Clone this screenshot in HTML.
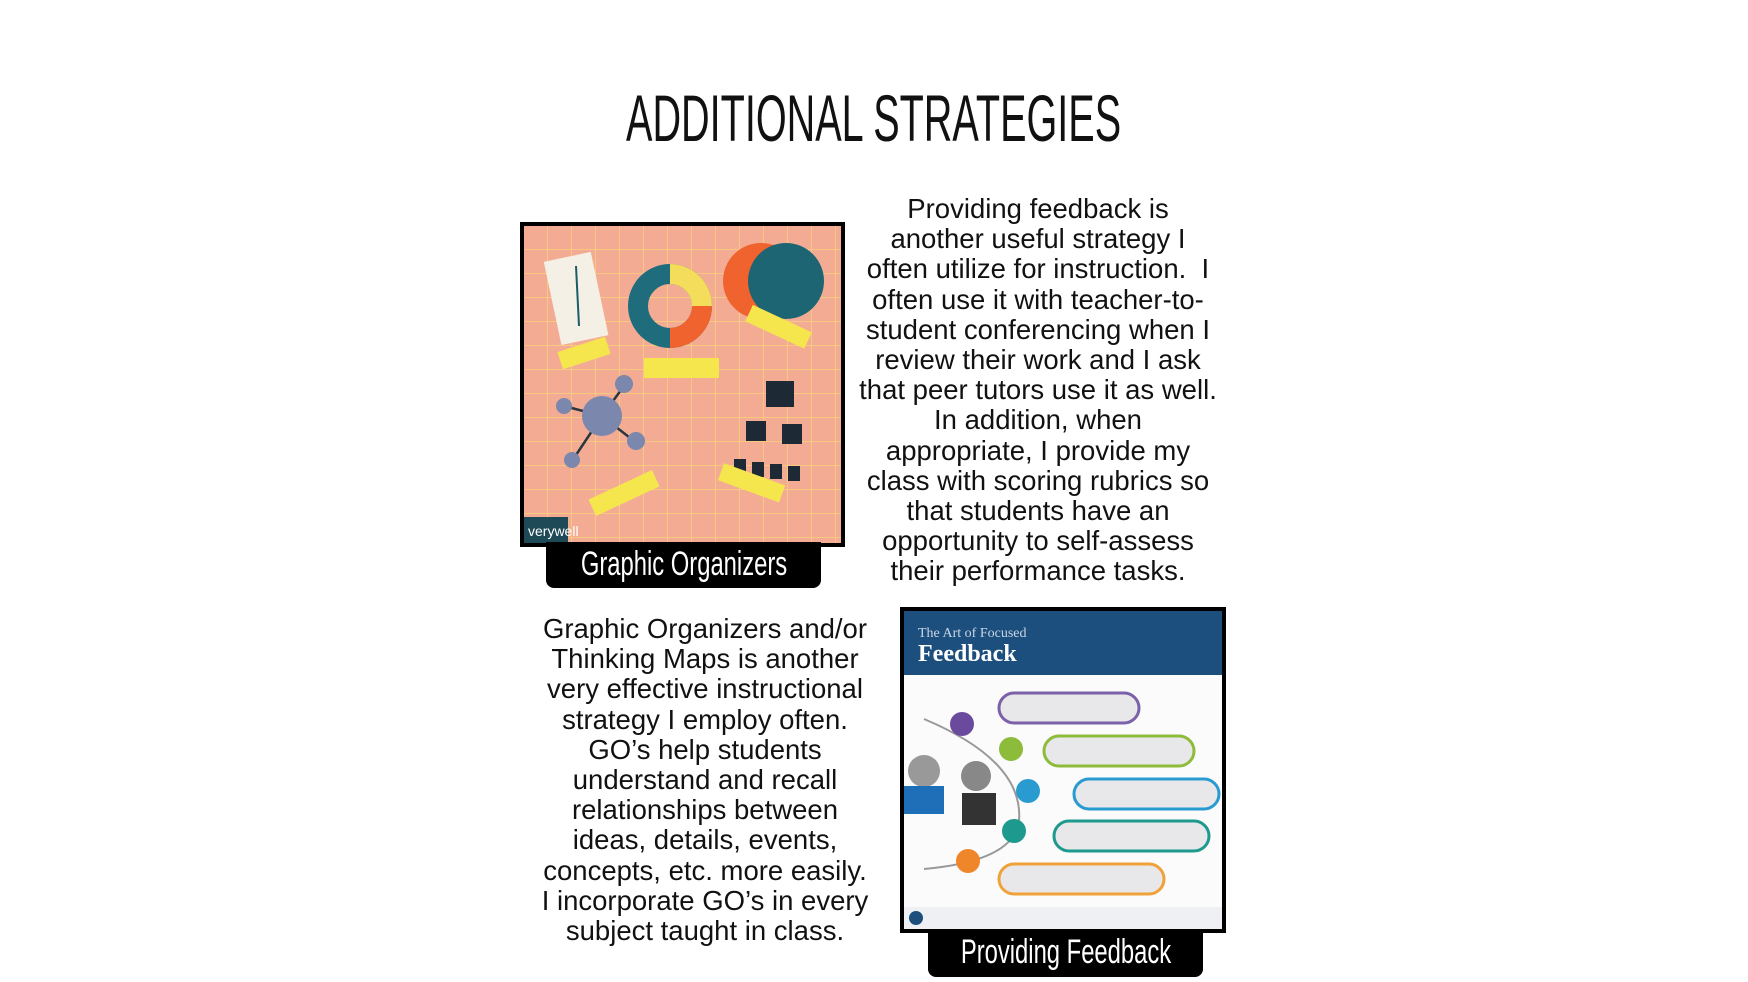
<!DOCTYPE html>
<html><head><meta charset="utf-8"><style>
body{margin:0;width:1748px;height:982px;background:#fff;position:relative;overflow:hidden;font-family:"Liberation Sans",sans-serif}
.abs{position:absolute}
.title{left:0;width:1748px;top:80px;text-align:center;font-size:66px;color:#111;white-space:nowrap}
.title span{display:inline-block;transform:scaleX(0.6);}
.txt{text-align:center;font-size:27.5px;line-height:30.2px;color:#111;white-space:nowrap}
.label{background:#000;color:#fff;border-radius:0 0 8px 8px;font-size:34px;line-height:44px;white-space:nowrap}
.label span{position:absolute;left:50%;top:0;transform:translateX(-50%) scaleX(0.7)}
</style></head><body>
<div class="abs title"><span>ADDITIONAL STRATEGIES</span></div>

<div class="abs" style="left:520px;top:222px;width:317px;height:317px;border:4px solid #000;background:#f3ac93;overflow:hidden">
<svg width="317" height="317">
<defs><pattern id="g" width="24" height="24" patternUnits="userSpaceOnUse"><path d="M24 0V24H0" fill="none" stroke="#f7d27a" stroke-width="1.5"/></pattern></defs>
<rect width="317" height="317" fill="url(#g)"/>
<rect x="28" y="30" width="48" height="85" fill="#f4f0e6" transform="rotate(-12 52 72)"/>
<line x1="52" y1="40" x2="55" y2="100" stroke="#1a5c68" stroke-width="2"/>
<circle cx="146" cy="80" r="32" fill="none" stroke="#1f6c7c" stroke-width="20"/>
<path d="M146 48 A32 32 0 0 1 178 80" fill="none" stroke="#f3dd5a" stroke-width="20"/>
<path d="M178 80 A32 32 0 0 1 146 112" fill="none" stroke="#f0622e" stroke-width="20"/>
<circle cx="237" cy="55" r="38" fill="#f0622e"/>
<circle cx="262" cy="55" r="38" fill="#1d6573"/>
<g stroke="#2b3642" stroke-width="2.5"><line x1="78" y1="190" x2="40" y2="180"/><line x1="78" y1="190" x2="100" y2="160"/><line x1="78" y1="190" x2="110" y2="215"/><line x1="78" y1="190" x2="50" y2="232"/></g>
<circle cx="78" cy="190" r="20" fill="#7b87ad"/><circle cx="40" cy="180" r="8" fill="#7b87ad"/><circle cx="100" cy="158" r="9" fill="#7b87ad"/><circle cx="112" cy="215" r="9" fill="#7b87ad"/><circle cx="48" cy="234" r="8" fill="#7b87ad"/>
<rect x="242" y="155" width="28" height="26" fill="#1d2a35"/><rect x="222" y="195" width="20" height="20" fill="#1d2a35"/><rect x="258" y="198" width="20" height="20" fill="#1d2a35"/>
<rect x="210" y="233" width="12" height="15" fill="#1d2a35"/><rect x="228" y="236" width="12" height="15" fill="#1d2a35"/><rect x="246" y="238" width="12" height="15" fill="#1d2a35"/><rect x="264" y="240" width="12" height="15" fill="#1d2a35"/>
<g fill="#f6e64e"><rect x="35" y="118" width="50" height="18" transform="rotate(-18 60 127)"/><rect x="120" y="132" width="75" height="20"/><rect x="222" y="92" width="65" height="18" transform="rotate(25 255 101)"/><rect x="65" y="258" width="70" height="18" transform="rotate(-25 100 267)"/><rect x="195" y="248" width="65" height="18" transform="rotate(20 228 257)"/></g>
<rect x="0" y="291" width="44" height="26" fill="#1e4a58"/><text x="4" y="310" fill="#fff" font-size="14" font-family="Liberation Sans">verywell</text>
</svg></div>
<div class="abs label" style="left:546px;top:542px;width:275px;height:46px"><span>Graphic Organizers</span></div>

<div class="abs txt" style="left:838px;width:400px;top:194px">Providing feedback is<br>another useful strategy I<br>often utilize for instruction.&nbsp; I<br>often use it with teacher-to-<br>student conferencing when I<br>review their work and I ask<br>that peer tutors use it as well.<br>In addition, when<br>appropriate, I provide my<br>class with scoring rubrics so<br>that students have an<br>opportunity to self-assess<br>their performance tasks.</div>

<div class="abs txt" style="left:505px;width:400px;top:614px">Graphic Organizers and/or<br>Thinking Maps is another<br>very effective instructional<br>strategy I employ often.<br>GO’s help students<br>understand and recall<br>relationships between<br>ideas, details, events,<br>concepts, etc. more easily.<br>I incorporate GO’s in every<br>subject taught in class.</div>

<div class="abs" style="left:900px;top:607px;width:318px;height:318px;border:4px solid #000;background:#fbfbfb;overflow:hidden">
<svg width="318" height="318">
<rect width="318" height="64" fill="#1c4f7e"/>
<text x="14" y="26" fill="#c9d6e6" font-size="14" font-family="Liberation Serif">The Art of Focused</text>
<text x="14" y="50" fill="#fff" font-size="24" font-weight="bold" font-family="Liberation Serif">Feedback</text>
<g stroke-width="3" fill="#e8e8ea"><rect x="95" y="82" width="140" height="30" rx="15" stroke="#7b62a8"/><rect x="140" y="125" width="150" height="30" rx="15" stroke="#8dbb3a"/><rect x="170" y="168" width="145" height="30" rx="15" stroke="#2a9bd0"/><rect x="150" y="210" width="155" height="30" rx="15" stroke="#1d9a8d"/><rect x="95" y="253" width="165" height="30" rx="15" stroke="#f0a23a"/></g>
<path d="M20 108 Q120 150 115 210 Q110 250 20 258" fill="none" stroke="#999" stroke-width="2"/>
<circle cx="58" cy="113" r="12" fill="#6a4a9c"/><circle cx="107" cy="138" r="12" fill="#8dbb3a"/><circle cx="124" cy="180" r="12" fill="#2a9bd0"/><circle cx="110" cy="220" r="12" fill="#1d9a8d"/><circle cx="64" cy="250" r="12" fill="#f0862a"/>
<circle cx="20" cy="160" r="16" fill="#999"/><rect x="0" y="175" width="40" height="28" fill="#1f6fb8"/><circle cx="72" cy="165" r="15" fill="#888"/><rect x="58" y="182" width="34" height="32" fill="#333"/>
<rect x="0" y="296" width="318" height="22" fill="#eef0f4"/><circle cx="12" cy="307" r="7" fill="#1c4f7e"/>
</svg></div>
<div class="abs label" style="left:928px;top:930px;width:275px;height:47px"><span>Providing Feedback</span></div>
</body></html>
